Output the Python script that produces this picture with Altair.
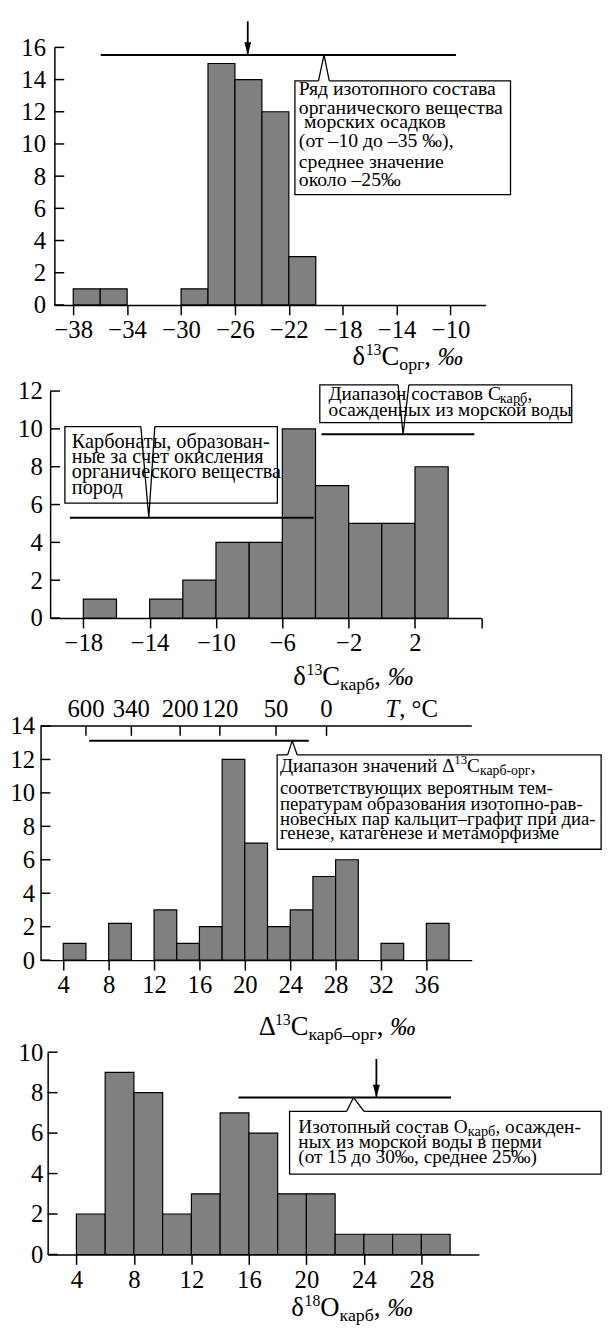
import altair as alt
import pandas as pd

FONT = "Liberation Serif"
BAR_FILL = "#808080"

# ---------------- data ----------------
# Panel 1: delta13C org
p1_bins = [-38, -36, -30, -28, -26, -24, -22]
p1_counts = [1, 1, 1, 15, 14, 12, 3]
p1_xticks = [-38, -34, -30, -26, -22, -18, -14, -10]
p1_yticks = [0, 2, 4, 6, 8, 10, 12, 14, 16]

# Panel 2: delta13C carb
p2_bins = [-18, -14, -12, -10, -8, -6, -4, -2, 0, 2]
p2_counts = [1, 1, 2, 4, 4, 10, 7, 5, 5, 8]
p2_xticks = [-18, -14, -10, -6, -2, 2, 6]
p2_yticks = [0, 2, 4, 6, 8, 10, 12]

# Panel 3: Delta13C carb-org
p3_bins = [4, 8, 12, 14, 16, 18, 20, 22, 24, 26, 28, 32, 36]
p3_counts = [1, 2.2, 3, 1, 2, 12, 7, 2, 3, 5, 6, 1, 2.2]
p3_xticks = [4, 8, 12, 16, 20, 24, 28, 32, 36]
p3_yticks = [0, 2, 4, 6, 8, 10, 12, 14]
p3_temp_pos = [6.0, 10.0, 14.3, 17.8, 22.75, 27.2]
p3_temp_labels = ["600", "340", "200", "120", "50", "0"]

# Panel 4: delta18O carb
p4_bins = [4, 6, 8, 10, 12, 14, 16, 18, 20, 22, 24, 26, 28]
p4_counts = [2, 9, 8, 2, 3, 7, 6, 3, 3, 1, 1, 1, 1]
p4_xticks = [4, 8, 12, 16, 20, 24, 28]
p4_yticks = [0, 2, 4, 6, 8, 10]

# annotation texts
p1_note = ["Ряд изотопного состава", "органического вещества", "морских осадков",
           "(от –10 до –35 ‰),", "среднее значение", "около –25‰"]
p2_note_left = ["Карбонаты, образован-", "ные за счет окисления",
                "органического вещества", "пород"]
p2_note_right2 = "осажденных из морской воды"
p3_note = ["соответствующих вероятным тем-", "пературам образования изотопно-рав-",
           "новесных пар кальцит–графит при диа-", "генезе, катагенезе и метаморфизме"]
p4_note = ["ных из морской воды в перми", "(от 15 до 30‰, среднее 25‰)"]

# ---------------- helpers ----------------
W = {
    "а": .444, "б": .5, "в": .472, "г": .41, "д": .5, "е": .444, "ж": .691, "з": .395,
    "и": .535, "й": .535, "к": .486, "л": .5, "м": .624, "н": .535, "о": .5, "п": .535,
    "р": .5, "с": .444, "т": .437, "у": .5, "ф": .648, "х": .5, "ц": .535, "ч": .5,
    "ш": .758, "щ": .758, "ы": .687, "ь": .457, "я": .48, "Д": .64, "И": .722,
    "C": .667, "O": .722, "T": .556, "Δ": .612, "δ": .5, " ": .25, ",": .25,
    "–": .5, "-": .333, "‰": 1.0, "°": .4,
}

TOTAL_W = 604
TOTAL_H = 1328
PW = 437
TICK_FS = 25


def tw(s, fs):
    return sum(W.get(c, 0.5) for c in s) * fs


class Panel:
    """One histogram panel placed inside a single big plot frame via scale ranges."""

    def __init__(self, left, top, bottom, xdom, ydom, xticks, yticks, ypad, blank=None):
        self.left, self.top, self.bottom = left, top, bottom
        self.xsc = alt.Scale(domain=xdom, range=[left, left + PW], nice=False, zero=False)
        self.ysc = alt.Scale(domain=ydom, range=[bottom, top], nice=False, zero=False)
        expr = "datum.value < 0 ? '\u2212' + abs(datum.value) : '' + datum.value"
        if blank is not None:
            expr = f"datum.value == {blank} ? '' : ({expr})"
        self.xax = alt.Axis(
            orient="bottom", offset=bottom - TOTAL_H,
            values=xticks, title=None, grid=False, domainColor="black", domainWidth=1.5,
            tickColor="black", tickWidth=1.5, tickSize=10, labelFont=FONT,
            labelFontSize=TICK_FS, labelColor="black", labelPadding=3, labelOverlap=False,
            labelFlush=False, labelExpr=expr)
        self.yax = alt.Axis(
            orient="left", offset=-left,
            values=yticks, title=None, grid=False, ticks=False, tickSize=0,
            domainColor="black", domainWidth=1.5, labelFont=FONT, labelFontSize=TICK_FS,
            labelColor="black", labelPadding=ypad, labelOverlap=False, labelFlush=False)
        self.layers = []
        self.yticks = yticks

    def X(self, f):
        return alt.X(f, scale=self.xsc, axis=self.xax)

    def Y(self, f):
        return alt.Y(f, scale=self.ysc, axis=self.yax)

    def bars(self, bins, counts):
        df = pd.DataFrame({"x0": bins, "x1": [b + 2 for b in bins], "n": counts,
                           "z": [0] * len(bins)})
        self.layers.append(alt.Chart(df).mark_rect(
            fill=BAR_FILL, stroke="black", strokeWidth=1.2).encode(
            x=self.X("x0:Q"), x2="x1:Q", y=self.Y("n:Q"), y2="z:Q"))
        tdf = pd.DataFrame({"t": self.yticks})
        self.layers.append(alt.Chart(tdf).mark_rule(color="black", strokeWidth=1.5).encode(
            y=self.Y("t:Q"), x=alt.value(self.left), x2=alt.value(self.left + 10)))

    def hline(self, x1, x2, y, color="black", width=2.0):
        df = pd.DataFrame({"a": [x1], "b": [x2], "y": [y]})
        self.layers.append(alt.Chart(df).mark_rule(color=color, strokeWidth=width).encode(
            x=self.X("a:Q"), x2="b:Q", y=self.Y("y:Q")))

    def arrow(self, x, ytop, ybot):
        df = pd.DataFrame({"x": [x], "t": [ytop], "b": [ybot]})
        self.layers.append(alt.Chart(df).mark_rule(color="black", strokeWidth=1.8).encode(
            x=self.X("x:Q"), y=self.Y("t:Q"), y2="b:Q"))
        self.layers.append(alt.Chart(df).mark_point(
            shape="M-0.5,-1.85L0.5,-1.85L0,0Z", filled=True, color="black", size=196,
            opacity=1, strokeWidth=0).encode(x=self.X("x:Q"), y=self.Y("b:Q")))

    def callout(self, x1, x2, ytop, ybot, apex_x, apex_y, bl, br):
        rdf = pd.DataFrame({"a": [x1], "b": [x2], "t": [ytop], "u": [ybot]})
        self.layers.append(alt.Chart(rdf).mark_rect(
            fill="white", stroke="black", strokeWidth=1.3).encode(
            x=self.X("a:Q"), x2="b:Q", y=self.Y("t:Q"), y2="u:Q"))
        self.hline(bl, br, ytop, color="white", width=3)
        ndf = pd.DataFrame({"px": [bl, apex_x, br], "py": [ytop, apex_y, ytop],
                            "o": [0, 1, 2]})
        self.layers.append(alt.Chart(ndf).mark_line(color="black", strokeWidth=1.3).encode(
            x=self.X("px:Q"), y=self.Y("py:Q"), order=alt.Order("o:Q")))

    def lines(self, xs, ys, texts, fs):
        df = pd.DataFrame({"x": xs, "y": ys, "t": texts})
        self.layers.append(alt.Chart(df).mark_text(
            align="left", baseline="alphabetic", font=FONT, fontSize=fs,
            color="black").encode(x=self.X("x:Q"), y=self.Y("y:Q"), text="t:N"))

    def _rich(self, pieces, df, xe, ye):
        dx = 0.0
        for s, fs, dy, style in pieces:
            kw = dict(align="left", baseline="alphabetic", font=FONT, fontSize=fs,
                      dx=dx, dy=dy, text=s, color="black")
            if style:
                kw["fontStyle"] = style
            self.layers.append(alt.Chart(df).mark_text(**kw).encode(x=xe, y=ye))
            dx += tw(s, fs)

    def data_rich(self, pieces, xv, yv):
        df = pd.DataFrame({"x": [xv], "y": [yv]})
        self._rich(pieces, df, self.X("x:Q"), self.Y("y:Q"))

    def pix_rich(self, pieces, px, py):
        self._rich(pieces, pd.DataFrame({"a": [0]}), alt.value(px), alt.value(py))

    def chart(self):
        return alt.layer(*self.layers)


def title_pieces(a, sup, b, sub):
    return [(a, 27, 0, None), (sup, 16, -10, None), (b, 27, 0, None),
            (sub, 18, 5, None), (", ", 27, 0, None), ("‰", 26, 0, "italic")]


# ---------------- panel 1 ----------------
P1 = Panel(47, 31, 292, [-39.4, -7.4], [0, 16], p1_xticks, p1_yticks, 9)
P1.bars(p1_bins, p1_counts)
P1.hline(-35.96, -9.6, 15.53)
P1.arrow(-25.05, 17.62, 15.53)
P1.callout(-21.55, -5.55, 13.92, 6.85, -19.39, 15.53, -19.8, -19.0)
P1.lines([-21.26, -21.26, -20.87, -21.26, -21.26, -21.26],
         [13.04, 11.89, 10.99, 9.81, 8.48, 7.36], p1_note, 20)
P1.pix_rich(title_pieces("δ", "13", "C", "орг"), 349, 353)

# ---------------- panel 2 ----------------
P2 = Panel(42.7, 379.3, 609.3, [-20, 6], [0, 12], p2_xticks, p2_yticks, 8, blank=6)
P2.bars(p2_bins, p2_counts)
P2.hline(-18.81, -4.11, 5.30)
P2.hline(-3.64, 5.58, 9.72)
P2.callout(-19.11, -6.30, 10.12, 6.08, -14.05, 5.30, -14.53, -13.69)
P2.lines([-18.69] * 4, [8.99, 8.21, 7.39, 6.55], p2_note_left, 20.5)
P2.callout(-3.74, 11.45, 12.33, 10.33, 1.28, 9.72, 0.98, 1.63)
P2.data_rich([("Диапазон составов C", 19.5, 0, None), ("карб", 14.5, 3, None),
              (",", 19.5, 0, None)], -3.22, 11.51)
P2.lines([-3.22], [10.67], [p2_note_right2], 19.5)
P2.pix_rich(title_pieces("δ", "13", "C", "карб"), 289, 677)

# ---------------- panel 3 ----------------
P3 = Panel(33, 718.7, 956, [2, 40], [0, 14], p3_xticks, p3_yticks, 6)
P3.bars(p3_bins, p3_counts)
P3.layers.append(alt.Chart(pd.DataFrame({"a": [0]})).mark_rule(
    color="black", strokeWidth=1.5).encode(
    x=alt.value(P3.left), x2=alt.value(P3.left + PW), y=alt.value(P3.top)))
tdf3 = pd.DataFrame({"t": p3_temp_pos, "lab": p3_temp_labels})
P3.layers.append(alt.Chart(tdf3).mark_rule(color="black", strokeWidth=1.5).encode(
    x=P3.X("t:Q"), y=alt.value(P3.top), y2=alt.value(P3.top + 10)))
P3.layers.append(alt.Chart(tdf3).mark_text(
    align="center", baseline="alphabetic", font=FONT, fontSize=TICK_FS, color="black").encode(
    x=P3.X("t:Q"), y=alt.value(P3.top - 9), text="lab:N"))
P3._rich([("T", TICK_FS, 0, "italic"), (", °C", TICK_FS, 0, None)],
         pd.DataFrame({"x": [32.4]}), P3.X("x:Q"), alt.value(P3.top - 9))
P3.hline(6.28, 25.64, 13.11)
P3.callout(22.85, 51.4, 12.27, 6.63, 24.18, 13.11, 23.77, 24.62)
P3.data_rich([("Диапазон значений Δ", 19.5, 0, None), ("13", 13, -8, None),
              ("C", 19.5, 0, None), ("карб-орг", 14, 3, None), (",", 19.5, 0, None)],
             23.09, 11.25)
P3.lines([23.09] * 4, [9.91, 8.99, 8.10, 7.22], p3_note, 19)
P3.pix_rich(title_pieces("Δ", "13", "C", "карб–орг"), 254, 1032)

# ---------------- panel 4 ----------------
P4 = Panel(40.2, 1049.3, 1254.3, [2, 32], [0, 10], p4_xticks, p4_yticks, 5)
P4.bars(p4_bins, p4_counts)
P4.hline(15.28, 30.06, 7.76)
P4.arrow(24.87, 9.67, 7.76)
P4.callout(18.83, 40.5, 7.07, 3.97, 23.28, 7.76, 22.79, 24.01)
P4.data_rich([("Изотопный состав O", 19.5, 0, None), ("карб", 14.5, 3, None),
              (", осажден-", 19.5, 0, None)], 19.44, 6.0)
P4.lines([19.44, 19.44], [5.28, 4.5], p4_note, 19.5)
P4.pix_rich(title_pieces("δ", "18", "O", "карб"), 287, 1317)

# ---------------- assemble ----------------
chart = alt.layer(P1.chart(), P2.chart(), P3.chart(), P4.chart()).resolve_scale(
    x="independent", y="independent"
).properties(
    width=TOTAL_W, height=TOTAL_H, padding=0
).configure_view(strokeWidth=0)

chart.save("out.html", embed_options={"renderer": "svg", "actions": False})
